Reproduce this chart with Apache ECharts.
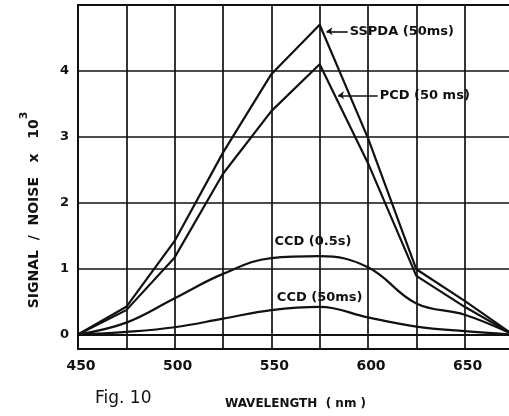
<!DOCTYPE html>
<html>
<head>
<meta charset="utf-8">
<script src="https://cdn.jsdelivr.net/npm/echarts@6/dist/echarts.min.js"></script>
<style>
  html, body { margin: 0; padding: 0; background: #fff; }
  #chart { width: 509px; height: 416px; }
</style>
</head>
<body>
<div id="chart"></div>
<script>
// Wavelength samples (nm)
const wavelengths = [450, 475, 500, 525, 550, 575, 600, 625, 650, 675];

// Signal / noise (x 10^3) for each detector
const sspda50ms = [0, 0.42, 1.42, 2.76, 3.95, 4.70, 2.98, 0.99, 0.51, 0];
const pcd50ms   = [0, 0.37, 1.17, 2.44, 3.39, 4.10, 2.60, 0.89, 0.42, 0];
const ccd05s    = [0, 0.18, 0.55, 0.92, 1.16, 1.19, 1.02, 0.47, 0.30, 0];
const ccd50ms   = [0, 0.04, 0.11, 0.24, 0.37, 0.42, 0.26, 0.12, 0.05, 0];

// Axis tick values
const xLabelValues = [450, 500, 550, 600, 650];
const yTickValues = [0, 1, 2, 3, 4];

const FONT = '"DejaVu Sans", sans-serif';
const INK = '#111';

function pairs(ys) {
  return wavelengths.map((x, i) => [x, ys[i]]);
}

function leader(from, to, text) {
  return {
    silent: true,
    symbol: ['arrow', 'none'],
    symbolSize: 6,
    lineStyle: { color: INK, width: 1.6, type: 'solid' },
    label: {
      show: true, position: 'end', distance: 2, formatter: text,
      color: INK, fontFamily: FONT, fontWeight: 'bold', fontSize: 13
    },
    emphasis: { disabled: true },
    data: [[{ coord: from }, { coord: to }]]
  };
}

function tag(at, text) {
  return {
    silent: true,
    symbol: 'rect',
    symbolSize: 1,
    itemStyle: { color: 'rgba(0,0,0,0)' },
    label: {
      show: true, position: 'inside', formatter: text,
      color: INK, fontFamily: FONT, fontWeight: 'bold', fontSize: 13
    },
    data: [{ coord: at }]
  };
}

function curve(name, ys, smooth, extra) {
  return Object.assign({
    name: name,
    type: 'line',
    data: pairs(ys),
    smooth: smooth,
    showSymbol: false,
    lineStyle: { color: INK, width: 2.2 },
    emphasis: { disabled: true },
    animation: false
  }, extra || {});
}

const chart = echarts.init(document.getElementById('chart'), null, { renderer: 'canvas' });

chart.setOption({
  backgroundColor: '#fff',
  animation: false,
  grid: {
    left: 78, top: 5, right: -4, bottom: 67,
    containLabel: false,
    outerBoundsMode: 'none',
    show: true, borderColor: INK, borderWidth: 2
  },
  xAxis: {
    type: 'value',
    min: 450, max: 675, interval: 25,
    axisLine: { show: true, lineStyle: { color: INK, width: 2 } },
    axisTick: { show: false },
    splitLine: { show: true, lineStyle: { color: INK, width: 1.7 } },
    axisLabel: {
      color: INK, fontFamily: FONT, fontWeight: 'bold', fontSize: 14,
      margin: 10, padding: [0, 0, 0, 6],
      formatter: v => (xLabelValues.indexOf(v) >= 0 ? String(v) : '')
    },
    name: 'WAVELENGTH  ( nm )',
    nameLocation: 'middle',
    nameGap: 49,
    nameTextStyle: { color: INK, fontFamily: FONT, fontWeight: 'bold', fontSize: 12 }
  },
  yAxis: {
    type: 'value',
    min: -0.22, max: 5,
    axisLine: { show: true, lineStyle: { color: INK, width: 2 } },
    axisTick: { show: false, customValues: yTickValues },
    splitLine: { show: true, lineStyle: { color: INK, width: 1.7 } },
    axisLabel: {
      color: INK, fontFamily: FONT, fontWeight: 'bold', fontSize: 13,
      margin: 9, customValues: yTickValues
    },
    name: '{t|SIGNAL  /  NOISE   x   10}{s|3}',
    nameLocation: 'middle',
    nameRotate: 90,
    nameGap: 37,
    nameTextStyle: {
      color: INK, fontFamily: FONT, fontWeight: 'bold', padding: [0, 66, 0, 0],
      rich: {
        t: { fontSize: 14, lineHeight: 22, verticalAlign: 'bottom', fontWeight: 'bold', fontFamily: FONT, color: INK },
        s: { fontSize: 11, lineHeight: 12, verticalAlign: 'top', fontWeight: 'bold', fontFamily: FONT, color: INK }
      }
    }
  },
  series: [
    curve('SSPDA (50ms)', sspda50ms, false, {
      markLine: leader([578.5, 4.6], [589.5, 4.6], 'SSPDA (50ms)')
    }),
    curve('PCD (50 ms)', pcd50ms, false, {
      markLine: leader([584.5, 3.63], [605, 3.63], 'PCD (50 ms)')
    }),
    curve('CCD (0.5s)', ccd05s, 0.4, {
      markPoint: tag([571.5, 1.41], 'CCD (0.5s)')
    }),
    curve('CCD (50ms)', ccd50ms, 0.4, {
      markPoint: tag([575, 0.56], 'CCD (50ms)')
    })
  ],
  graphic: [{
    type: 'text',
    left: 95, top: 390,
    style: { text: 'Fig. 10', fill: INK, font: '17px ' + FONT }
  }]
});
</script>
</body>
</html>
